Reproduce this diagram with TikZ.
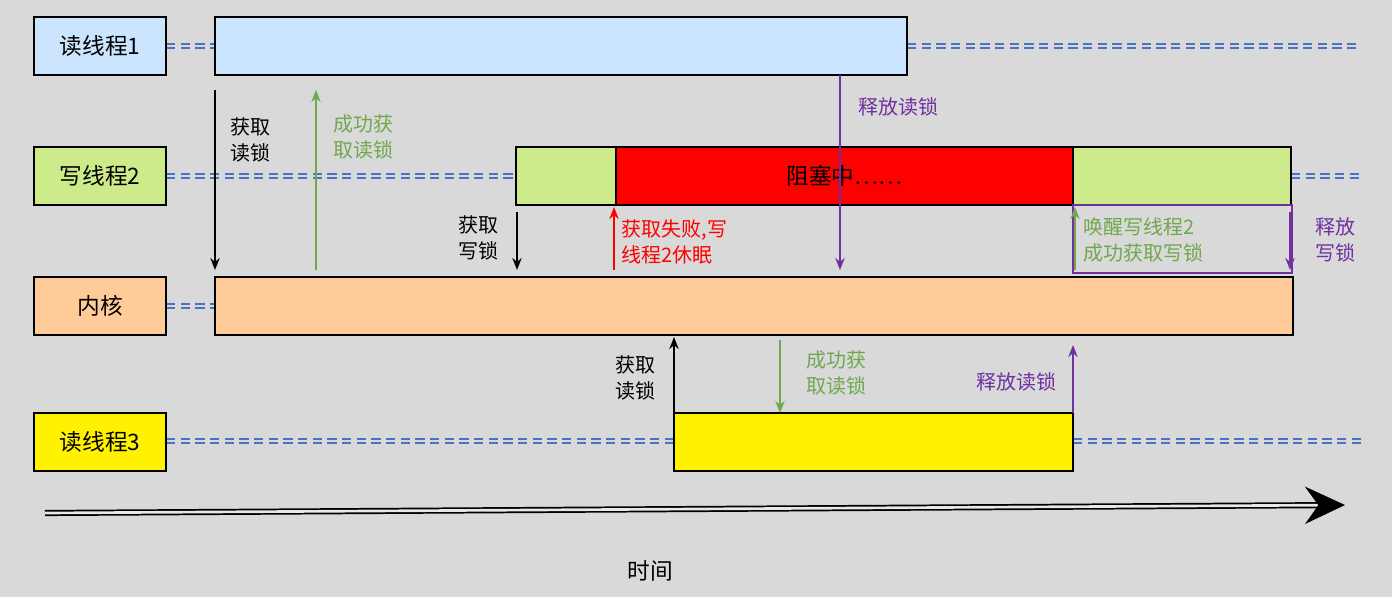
\documentclass[tikz,border=0pt]{standalone}
\usepackage{fontspec}
\setmainfont{Noto Sans CJK SC}
\usetikzlibrary{arrows.meta}

\definecolor{bgray}{HTML}{D9D9D9}
\definecolor{lblue}{HTML}{CCE5FF}
\definecolor{lgreen}{HTML}{CDEB8B}
\definecolor{lorange}{HTML}{FFCC99}
\definecolor{dblue}{HTML}{4A72C4}
\definecolor{tgreen}{HTML}{6FA84E}
\definecolor{tpurple}{HTML}{7030A0}

\tikzset{
  bar/.style={draw=black,line width=1.5pt,inner sep=0pt,minimum height=43.5pt},
  thread/.style={bar,minimum width=99pt,font=\fontsize{17}{20}\selectfont},
  wait/.style={dblue,line width=1.6pt,dash pattern=on 7pt off 4pt,double=bgray,double distance=1.4pt},
  note/.style={font=\fontsize{15}{20}\selectfont,align=left},
  act/.style={-{Stealth[length=9pt,width=7pt]},line width=1.5pt},
}

\begin{document}
\begin{tikzpicture}[x=0.75pt,y=-0.75pt]
  \fill[bgray] (0,0) rectangle (1392,597);
  \useasboundingbox (0,0) rectangle (1392,597);

  % waiting lines
  \draw[wait] (166,46) -- (215,46) (907,46) -- (1360,46);
  \draw[wait] (166,176) -- (516,176) (1291,176) -- (1360,176);
  \draw[wait] (166,306) -- (215,306);
  \draw[wait] (166,441) -- (674,441) (1073,441) -- (1362,441);

  % rows
  \node[thread,fill=lblue]   (n1) at (100,46)    {读线程1};
  \node[thread,fill=lgreen]  (n2) at (100,176)   {写线程2};
  \node[thread,fill=lorange] (nk) at (100,306)   {内核};
  \node[thread,fill=yellow]  (n3) at (100,441.5) {读线程3};

  \node[bar,fill=lblue,minimum width=519pt]     (r1)  at (561,46)    {};
  \node[bar,fill=lgreen,minimum width=75pt]     (w2a) at (566,176)   {};
  \node[bar,fill=red,minimum width=342.75pt,font=\fontsize{17}{20}\selectfont]
                                                (w2b) at (844.5,176) {阻塞中……};
  \node[bar,fill=lgreen,minimum width=163.5pt]  (w2c) at (1182,176)  {};
  \node[bar,fill=lorange,minimum width=808.5pt] (ker) at (754,306)   {};
  \node[bar,fill=yellow,minimum width=299.25pt] (r3)  at (873.5,441.5) {};

  \draw[tpurple,line width=0.8pt] (1073,205) rectangle (1292,273);

  % arrow ends
  \coordinate (a1) at (215,90);   \coordinate (b1) at (215,270);
  \coordinate (a2) at (316,270);  \coordinate (b2) at (316,90);
  \coordinate (a3) at (840,75);   \coordinate (b3) at (840,270);
  \coordinate (a4) at (517,212);  \coordinate (b4) at (517,270);
  \coordinate (a5) at (614,270);  \coordinate (b5) at (614,207);
  \coordinate (a6) at (1075,270); \coordinate (b6) at (1075,207);
  \coordinate (a7) at (1290,212); \coordinate (b7) at (1290,270);
  \coordinate (a8) at (674,413);  \coordinate (b8) at (674,337);
  \coordinate (a9) at (780,340);  \coordinate (b9) at (780,413);
  \coordinate (a10) at (1073,413); \coordinate (b10) at (1073,345);

  \draw[act,black]   (a1) -- (b1);
  \draw[act,tgreen]  (a2) -- (b2);
  \draw[act,tpurple] (a3) -- (b3);
  \draw[act,black]   (a4) -- (b4);
  \draw[act,red]     (a5) -- (b5);
  \draw[act,tgreen]  (a6) -- (b6);
  \draw[act,tpurple] (a7) -- (b7);
  \draw[act,black]   (a8) -- (b8);
  \draw[act,tgreen]  (a9) -- (b9);
  \draw[act,tpurple] (a10) -- (b10);

  % notes
  \node[note]              (t1)  at (250,140)  {获取\\读锁};
  \node[note,tgreen]       (t2)  at (363,137)  {成功获\\取读锁};
  \node[note,tpurple]      (t3)  at (898,107)  {释放读锁};
  \node[note]              (t4)  at (478,238)  {获取\\写锁};
  \node[note,red,anchor=west]    (t5) at (617,242) {获取失败,写\\线程2休眠};
  \node[note,tgreen,anchor=west] (t6) at (1079,240) {唤醒写线程2\\成功获取写锁};
  \node[note,tpurple]      (t7)  at (1335,240) {释放\\写锁};
  \node[note]              (t8)  at (635,378)  {获取\\读锁};
  \node[note,tgreen]       (t9)  at (836,373)  {成功获\\取读锁};
  \node[note,tpurple]      (t10) at (1016,382) {释放读锁};

  % time axis
  \coordinate (s) at (45,513);
  \coordinate (e) at (1345,505);
  \draw[line width=1.3pt,double=bgray!60!white,double distance=2pt,
        -{Stealth[length=30pt,width=28pt,inset=10pt]}] (s) -- (e);
  \node[font=\fontsize{17}{20}\selectfont] (tm) at (650,571) {时间};
\end{tikzpicture}
\end{document}
